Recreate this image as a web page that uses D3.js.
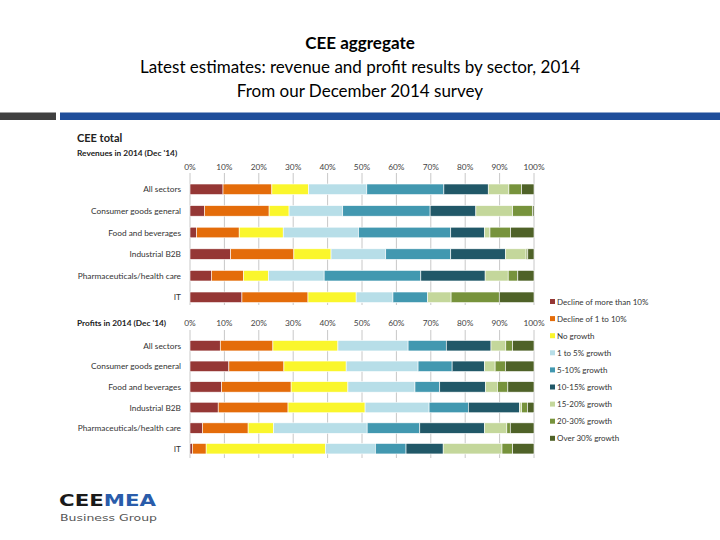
<!DOCTYPE html>
<html><head><meta charset="utf-8">
<script src="https://cdn.jsdelivr.net/npm/d3@7"></script>
<style>body{margin:0;background:#fff}svg{display:block}</style>
</head><body><svg id="c" width="720" height="540"></svg>
<script>
const categories = ["All sectors","Consumer goods general","Food and beverages","Industrial B2B","Pharmaceuticals/health care","IT"];
const seriesNames = ["Decline of more than 10%","Decline of 1 to 10%","No growth","1 to 5% growth","5-10% growth","10-15% growth","15-20% growth","20-30% growth","Over 30% growth"];
const seriesColors = ["#953735","#E46C0A","#FAF62C","#B7DEE8","#4298B0","#215868","#C4D79B","#77933C","#4F6228"];
const tickLabels = ["0%","10%","20%","30%","40%","50%","60%","70%","80%","90%","100%"];
// Revenues in 2014, % of respondents per category (values follow seriesNames)
const revAllSectors = [9.6,14.2,10.7,16.9,22.4,12.9,6.0,3.7,3.6];
const revConsumer   = [4.2,18.8,5.8,15.6,25.4,13.3,10.7,5.8,0.4];
const revFood       = [1.9,12.4,12.8,21.9,26.8,9.8,1.6,6.0,6.8];
const revIndustrial = [11.8,18.4,10.8,15.9,18.9,15.9,6.0,0.5,1.8];
const revPharma     = [6.2,9.4,7.2,16.2,28.1,18.7,6.7,2.8,4.7];
const revIT         = [15.1,19.2,14.0,10.7,10.1,0.0,6.8,14.0,10.1];
// Profits in 2014
const profAllSectors = [8.8,15.3,18.9,20.4,11.1,13.0,4.3,2.0,6.2];
const profConsumer   = [11.3,16.0,18.1,20.9,9.9,9.4,3.1,3.0,8.3];
const profFood       = [9.2,20.2,16.5,19.5,7.2,13.3,3.5,3.0,7.6];
const profIndustrial = [8.2,20.3,22.4,18.6,11.4,14.9,0.6,1.7,1.9];
const profPharma     = [3.6,13.3,7.4,27.2,15.3,18.8,6.5,1.0,6.9];
const profIT         = [0.7,4.0,34.7,14.5,8.9,10.8,17.1,3.1,6.2];

const revenueRows = [revAllSectors,revConsumer,revFood,revIndustrial,revPharma,revIT];
const profitRows = [profAllSectors,profConsumer,profFood,profIndustrial,profPharma,profIT];

const svg = d3.select("#c");
const FONT = "Lato, 'Open Sans', sans-serif";

// Header
svg.append("text").attr("x",360).attr("y",49).attr("text-anchor","middle")
  .attr("font-family",FONT).attr("font-size",17).attr("font-weight","bold").text("CEE aggregate");
svg.append("text").attr("x",360).attr("y",73).attr("text-anchor","middle")
  .attr("font-family",FONT).attr("font-size",17).text("Latest estimates: revenue and profit results by sector, 2014");
svg.append("text").attr("x",360).attr("y",97).attr("text-anchor","middle")
  .attr("font-family",FONT).attr("font-size",17).text("From our December 2014 survey");
svg.append("rect").attr("x",0).attr("y",112.5).attr("width",56).attr("height",7.5).attr("fill","#404040");
svg.append("rect").attr("x",60).attr("y",112.5).attr("width",660).attr("height",7.5).attr("fill","#1F4E9B");

// Section labels
svg.append("text").attr("x",77).attr("y",142).attr("font-family",FONT).attr("font-size",11)
  .attr("font-weight","bold").attr("fill","#222").text("CEE total");
svg.append("text").attr("x",77).attr("y",155.5).attr("font-family",FONT).attr("font-size",8.3)
  .attr("font-weight","bold").attr("fill","#222").text("Revenues in 2014 (Dec '14)");
svg.append("text").attr("x",77).attr("y",326).attr("font-family",FONT).attr("font-size",8.3)
  .attr("font-weight","bold").attr("fill","#222").text("Profits in 2014 (Dec '14)");

const x = d3.scaleLinear().domain([0,100]).range([190,534]);
const color = d3.scaleOrdinal().domain(seriesNames).range(seriesColors);

function panel(rows, bandRange, padInner, padOuter, tickY, gridTop, gridBottom){
  const y = d3.scaleBand().domain(categories).range(bandRange).paddingInner(padInner).paddingOuter(padOuter);
  const g = svg.append("g");
  g.selectAll("line.grid").data(d3.range(0,101,10)).join("line")
    .attr("x1",d=>x(d)).attr("x2",d=>x(d)).attr("y1",gridTop).attr("y2",gridBottom)
    .attr("stroke","#C8C8C8").attr("stroke-width",1);
  g.selectAll("text.tick").data(tickLabels).join("text")
    .attr("x",(d,i)=>x(i*10)).attr("y",tickY).attr("text-anchor","middle")
    .attr("font-family",FONT).attr("font-size",8.3).attr("fill","#444").text(d=>d);
  g.selectAll("text.cat").data(categories).join("text")
    .attr("x",181).attr("y",d=>y(d)+y.bandwidth()/2+3).attr("text-anchor","end")
    .attr("font-family",FONT).attr("font-size",8.3).attr("fill","#333").text(d=>d);
  const table = rows.map((r,i)=>{const o={cat:categories[i]}; seriesNames.forEach((s,j)=>o[s]=r[j]); return o;});
  const stack = d3.stack().keys(seriesNames)(table);
  g.selectAll("g.s").data(stack).join("g").attr("fill",d=>color(d.key))
    .selectAll("rect").data(d=>d).join("rect")
    .attr("x",d=>x(d[0])).attr("width",d=>Math.max(0,x(d[1])-x(d[0])))
    .attr("y",d=>y(d.data.cat)).attr("height",y.bandwidth())
    .attr("stroke","#fff").attr("stroke-width",0.6);
}
panel(revenueRows, [178.5,308.1], 0.51, 0.255, 170, 173, 305);
panel(profitRows, [335.4,459], 0.49, 0.245, 326, 330, 458);

// Legend
const leg = svg.append("g");
seriesNames.forEach((s,i)=>{
  const yy = 301.5 + i*17.1;
  leg.append("rect").attr("x",550).attr("y",yy-2.5).attr("width",5).attr("height",5).attr("fill",seriesColors[i]);
  leg.append("text").attr("x",557).attr("y",yy+3).attr("font-family",FONT).attr("font-size",8)
    .attr("fill","#333").text(s);
});

// Logo
const logo = svg.append("text").attr("x",59).attr("y",506).attr("font-family","'DejaVu Sans', 'Liberation Sans', sans-serif")
  .attr("font-size",15.5).attr("font-weight","bold")
  .attr("textLength",97).attr("lengthAdjust","spacingAndGlyphs");
logo.append("tspan").attr("fill","#1a1a1a").text("CEE");
logo.append("tspan").attr("fill","#2A5CAA").text("MEA");
svg.append("text").attr("x",60).attr("y",520.5).attr("font-family","'DejaVu Sans', 'Liberation Sans', sans-serif")
  .attr("font-size",9.5).attr("fill","#555")
  .attr("textLength",97).attr("lengthAdjust","spacingAndGlyphs").text("Business Group");
</script></body></html>
